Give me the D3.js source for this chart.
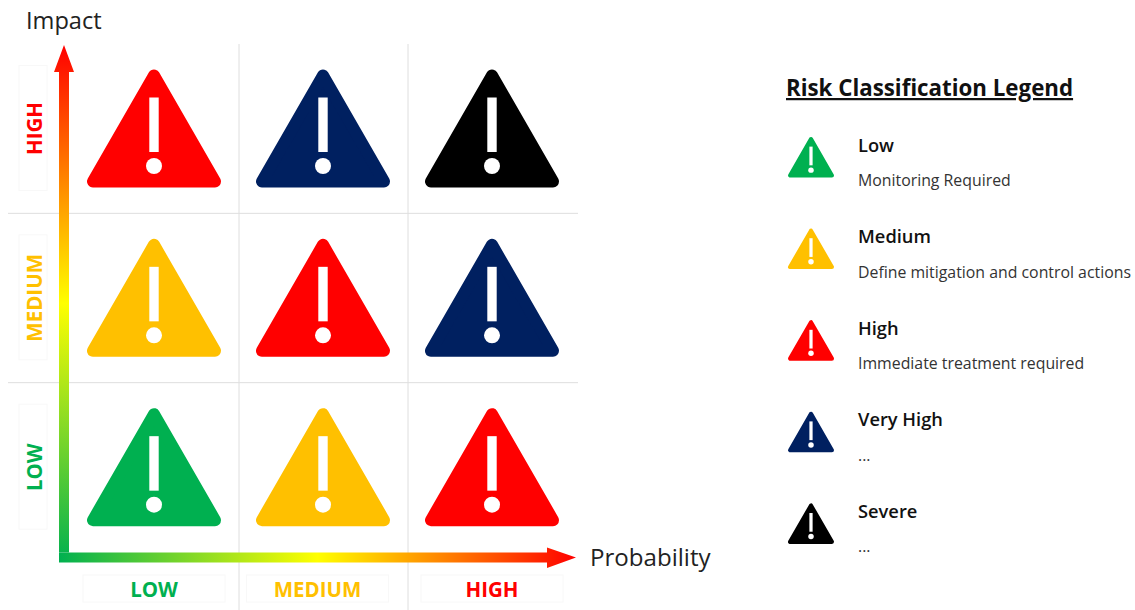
<!DOCTYPE html>
<html>
<head>
<meta charset="utf-8">
<script src="https://cdn.jsdelivr.net/npm/d3@7"></script>
<style>
body { margin: 0; background: #fff; }
text { font-family: "Open Sans", sans-serif; }
</style>
</head>
<body>
<div class="risk-matrix"></div>
<script>
var probabilityLevels = ["LOW", "MEDIUM", "HIGH"];
var impactLevels = ["HIGH", "MEDIUM", "LOW"];
// one row per impact level, top to bottom
var riskHighImpact = ["High", "Very High", "Severe"];
var riskMediumImpact = ["Medium", "High", "Very High"];
var riskLowImpact = ["Low", "Medium", "High"];
var riskRows = [riskHighImpact, riskMediumImpact, riskLowImpact];

var legendNames = ["Low", "Medium", "High", "Very High", "Severe"];
var legendNotes = ["Monitoring Required", "Define mitigation and control actions", "Immediate treatment required", "...", "..."];

var width = 1135;
var height = 610;

var svg = d3.select(".risk-matrix")
    .append("svg")
    .attr("width", width)
    .attr("height", height)
    .style("display", "block");

var xScale = d3.scaleBand().domain(probabilityLevels).range([70, 577]);
var yScale = d3.scaleBand().domain(impactLevels).range([44, 552]);
var legendScale = d3.scaleBand().domain(legendNames).range([137, 595]);

var riskColor = d3.scaleOrdinal()
    .domain(legendNames)
    .range(["#00b050", "#ffc000", "#ff0000", "#002060", "#000000"]);
var levelColor = d3.scaleOrdinal()
    .domain(["LOW", "MEDIUM", "HIGH"])
    .range(["#00b050", "#ffc000", "#ff0000"]);

// gradients for the axes
var defs = svg.append("defs");
function addGradient(id, x1, y1, x2, y2) {
    var g = defs.append("linearGradient")
        .attr("id", id)
        .attr("gradientUnits", "userSpaceOnUse")
        .attr("x1", x1).attr("y1", y1).attr("x2", x2).attr("y2", y2);
    g.append("stop").attr("offset", 0).attr("stop-color", "#00b050");
    g.append("stop").attr("offset", 0.5).attr("stop-color", "#ffff00");
    g.append("stop").attr("offset", 1).attr("stop-color", "#ff0000");
}
addGradient("gradientUp", 0, 562, 0, 45);
addGradient("gradientRight", 59, 0, 576, 0);

// grid lines
var gridColor = "#dedede";
[xScale("MEDIUM"), xScale("HIGH")].forEach(function(x) {
    svg.append("line")
        .attr("x1", x).attr("x2", x).attr("y1", 44).attr("y2", 610)
        .attr("stroke", gridColor).attr("stroke-width", 1);
});
[yScale("MEDIUM"), yScale("LOW")].forEach(function(y) {
    svg.append("line")
        .attr("x1", 8).attr("x2", 578).attr("y1", y).attr("y2", y)
        .attr("stroke", gridColor).attr("stroke-width", 1);
});

// warning sign, drawn with its top at y and centred on x
function drawSign(group, x, y, size, color) {
    var k = size / 134;
    var g = group.append("g").attr("transform", `translate(${x},${y}) scale(${k})`);
    g.append("path")
        .attr("d", "M0,6 L-61,112 L61,112 Z")
        .attr("fill", color)
        .attr("stroke", color)
        .attr("stroke-width", 12)
        .attr("stroke-linejoin", "round");
    g.append("rect")
        .attr("x", -4.7).attr("y", 28).attr("width", 9.4).attr("height", 54.5)
        .attr("fill", "#fff");
    g.append("circle")
        .attr("cx", 0).attr("cy", 96.5).attr("r", 8)
        .attr("fill", "#fff");
}

riskRows.forEach(function(row, i) {
    row.forEach(function(risk, j) {
        var x = xScale(probabilityLevels[j]) + xScale.bandwidth() / 2 - 0.5;
        var y = yScale(impactLevels[i]) + 25.5;
        drawSign(svg, x, y, 134, riskColor(risk));
    });
});

// the middle label sits a little left of its column in the picture
function labelCenter(d) {
    return xScale(d) + xScale.bandwidth() / 2 - (d === "MEDIUM" ? 6 : 0.5);
}

// probability labels
svg.selectAll(".x-box")
    .data(probabilityLevels)
    .enter()
    .append("rect")
    .attr("class", "x-box")
    .attr("x", function(d) { return labelCenter(d) - 71; })
    .attr("y", 575)
    .attr("width", 142)
    .attr("height", 27)
    .attr("fill", "none")
    .attr("stroke", "#f8f8f8");

svg.selectAll(".x-label")
    .data(probabilityLevels)
    .enter()
    .append("text")
    .attr("class", "x-label")
    .attr("x", labelCenter)
    .attr("y", 596.5)
    .attr("text-anchor", "middle")
    .attr("font-size", 20.5)
    .attr("font-weight", 700)
    .attr("fill", function(d) { return levelColor(d); })
    .text(function(d) { return d; });

// impact labels
svg.selectAll(".y-box")
    .data(impactLevels)
    .enter()
    .append("rect")
    .attr("class", "y-box")
    .attr("x", 19)
    .attr("y", function(d) { return yScale(d) + 21.5; })
    .attr("width", 28)
    .attr("height", 125)
    .attr("fill", "none")
    .attr("stroke", "#f8f8f8");

svg.selectAll(".y-label")
    .data(impactLevels)
    .enter()
    .append("text")
    .attr("class", "y-label")
    .attr("transform", function(d) { return `translate(42,${yScale(d) + 84.5}) rotate(-90)`; })
    .attr("text-anchor", "middle")
    .attr("font-size", 20.5)
    .attr("font-weight", 700)
    .attr("fill", function(d) { return levelColor(d); })
    .text(function(d) { return d; });

// axis arrows
svg.append("path")
    .attr("d", "M59,562.5 L59,72 L54,72 L64,45 L74,72 L69,72 L69,552.5 L59,552.5 Z")
    .attr("fill", "url(#gradientUp)");
svg.append("path")
    .attr("d", "M59,552.5 L547,552.5 L547,547.5 L576,557.5 L547,568 L547,562.5 L59,562.5 Z")
    .attr("fill", "url(#gradientRight)");

svg.append("text")
    .attr("x", 26).attr("y", 29)
    .attr("font-size", 23.6)
    .attr("fill", "#222")
    .text("Impact");
svg.append("text")
    .attr("x", 590).attr("y", 566)
    .attr("font-size", 24.1)
    .attr("fill", "#222")
    .text("Probability");

// legend
svg.append("text")
    .attr("x", 786).attr("y", 96)
    .attr("font-size", 22.3)
    .attr("font-weight", 700)
    .attr("fill", "#111")
    .attr("text-decoration", "underline")
    .text("Risk Classification Legend");

legendNames.forEach(function(name, i) {
    var y = legendScale(name);
    drawSign(svg, 811, y, 46, riskColor(name));
    svg.append("text")
        .attr("x", 858).attr("y", y + 14.5)
        .attr("font-size", 18.3)
        .attr("font-weight", 600)
        .attr("fill", "#111")
        .text(name);
    svg.append("text")
        .attr("x", 858).attr("y", y + 49)
        .attr("font-size", 15.85)
        .attr("fill", "#333")
        .text(legendNotes[i]);
});
</script>
</body>
</html>
